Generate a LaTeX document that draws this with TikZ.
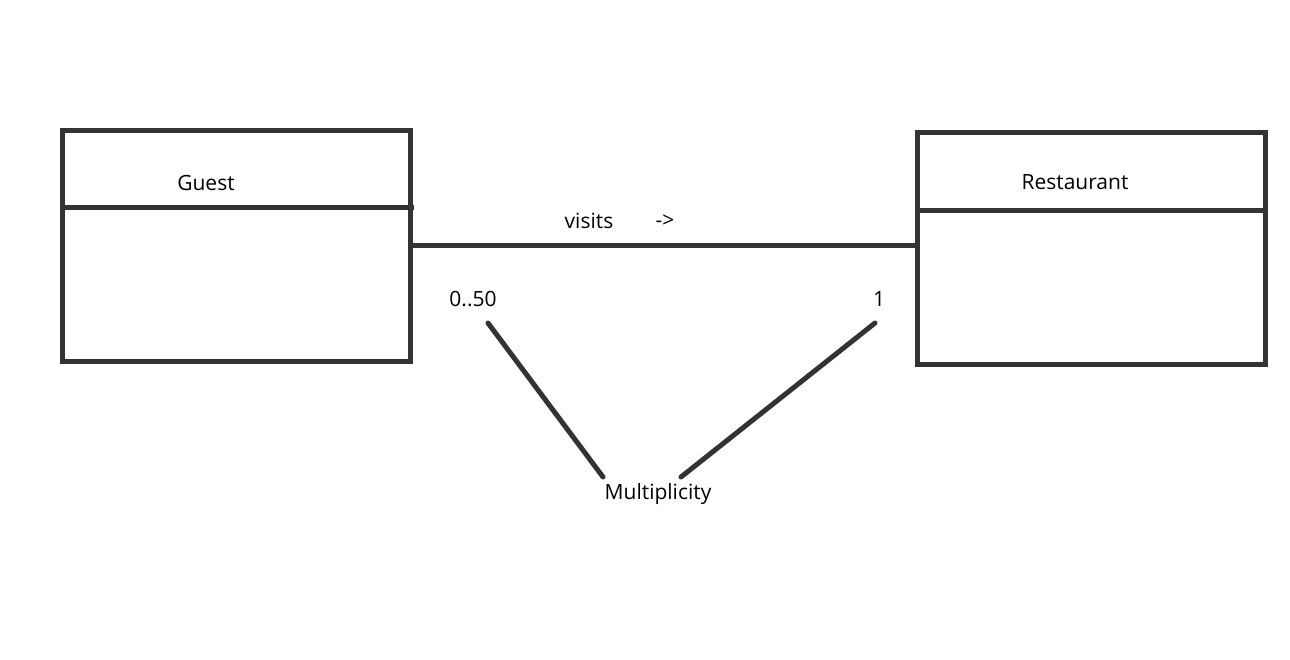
\documentclass[tikz,border=0pt]{standalone}
\usepackage{fontspec}
\setmainfont{Open Sans}
\definecolor{ink}{HTML}{333333}
\begin{document}
\begin{tikzpicture}[x=1pt,y=-1pt,
  classbox/.style={draw=ink,line width=5pt,rectangle,inner sep=0pt,outer sep=0pt,anchor=north west},
  lbl/.style={text=black,font=\fontsize{21}{25}\selectfont,inner sep=0pt},
  conn/.style={draw=ink,line width=5pt},
  pointer/.style={draw=ink,line width=5pt,line cap=round}]
\useasboundingbox (0,0) rectangle (1290,659);
\node[classbox,minimum width=348pt,minimum height=231pt] (guest) at (62,130) {};
\node[classbox,minimum width=348pt,minimum height=232pt] (rest) at (917,132) {};
\coordinate (gd1) at (62,207); \coordinate (gd2) at (414,207);
\draw[conn] (gd1) -- (gd2);
\coordinate (rd1) at (917,210); \coordinate (rd2) at (1268,210);
\draw[conn] (rd1) -- (rd2);
\node[lbl] (gname) at (206,183) {Guest};
\node[lbl] (rname) at (1075,182) {Restaurant};
\coordinate (a1) at (410,245); \coordinate (a2) at (917,245);
\draw[conn] (a1) -- (a2);
\node[lbl] (visits) at (589,221) {visits};
\node[lbl] (dir) at (665,221) {->};
\node[lbl] (m1) at (473,299) {0..50};
\node[lbl] (m2) at (879,299) {1};
\node[lbl] (mult) at (658,494) {Multiplicity};
\coordinate (p1s) at (488,323); \coordinate (p1e) at (603,477);
\coordinate (p2s) at (875,323); \coordinate (p2e) at (681,477);
\draw[pointer] (p1s) -- (p1e);
\draw[pointer] (p2s) -- (p2e);
\end{tikzpicture}
\end{document}
